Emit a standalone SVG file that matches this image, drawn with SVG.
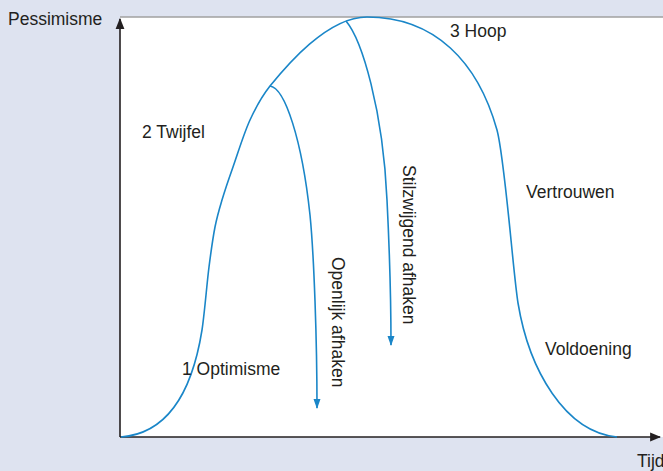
<svg xmlns="http://www.w3.org/2000/svg" width="663" height="471" viewBox="0 0 663 471">
<defs>
<style>
.lbl{font-family:"Liberation Sans",Arial,sans-serif;font-size:17.5px;fill:#231f20}
.curve{fill:none;stroke:#1a86c8;stroke-width:1.6}
.axis{fill:none;stroke:#231f20;stroke-width:1.6}
</style>
<marker id="ab" viewBox="0 0 10 10" refX="9" refY="5" markerWidth="10" markerHeight="10" markerUnits="userSpaceOnUse" orient="auto">
<path d="M0,1.5 L10,5 L0,8.5 Z" fill="#1a86c8"/>
</marker>
<marker id="ak" viewBox="0 0 10 10" refX="9" refY="5" markerWidth="11" markerHeight="11" markerUnits="userSpaceOnUse" orient="auto">
<path d="M0,1 L10,5 L0,9 Z" fill="#231f20"/>
</marker>
</defs>
<rect x="0" y="0" width="663" height="471" fill="#dee3f0"/>
<rect x="120" y="17" width="543" height="420" fill="#ffffff"/>
<line x1="120" y1="17" x2="663" y2="17" stroke="#a0a0a0" stroke-width="1.5"/>
<g id="axes">
<line class="axis" x1="120" y1="437" x2="120" y2="19" marker-end="url(#ak)"/>
<line class="axis" x1="120" y1="437" x2="660" y2="437" marker-end="url(#ak)"/>
</g>
<g id="connectors">
<path class="curve" d="M121,437 C160,434 190,405 202,330 C204.7,312 206.8,284.2 209,267 C211.2,249.8 212.8,238.2 215,227 C217.2,215.8 219,210 222,200 C225,190 228.3,180.3 233,167 C237.7,153.7 243.8,133.5 250,120 C256.2,106.5 261.7,96.5 270,86 C286,66.5 327,17 367,17 C435,17 478,62 497,130 C505,160 513,272 518,303 C529,370 565,432 617,437"/>
<path class="curve" d="M270,86 C285,88 302,140 310,215 C314,255 317,340 317,408" marker-end="url(#ab)"/>
<path class="curve" d="M346,21 C362,40 383,110 387,200 C390,260 391,300 391,345" marker-end="url(#ab)"/>
</g>
<g id="node-pessimisme"><text class="lbl" x="8" y="25">Pessimisme</text></g>
<g id="node-tijd"><text class="lbl" x="637" y="467">Tijd</text></g>
<g id="node-twijfel"><text class="lbl" x="142" y="138">2 Twijfel</text></g>
<g id="node-hoop"><text class="lbl" x="450" y="37">3 Hoop</text></g>
<g id="node-vertrouwen"><text class="lbl" x="526" y="198">Vertrouwen</text></g>
<g id="node-voldoening"><text class="lbl" x="545" y="355">Voldoening</text></g>
<g id="node-optimisme"><text class="lbl" x="182" y="375">1 Optimisme</text></g>
<g id="node-openlijk"><text class="lbl" transform="translate(332,257) rotate(90)">Openlijk afhaken</text></g>
<g id="node-stilzwijgend"><text class="lbl" transform="translate(403,165) rotate(90)">Stilzwijgend afhaken</text></g>
</svg>
